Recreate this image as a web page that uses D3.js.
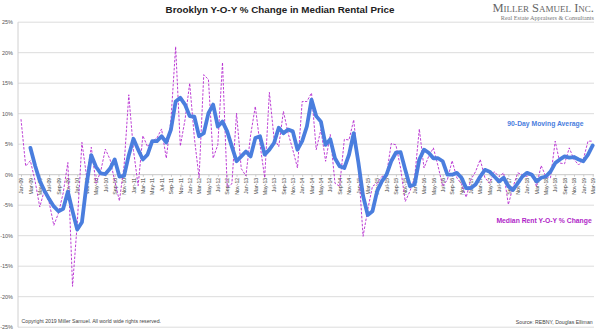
<!DOCTYPE html>
<html>
<head>
<meta charset="utf-8">
<script src="https://cdn.jsdelivr.net/npm/d3@7"></script>
<style>
  html, body { margin: 0; padding: 0; background: #fff; }
  svg { display: block; }
  text { font-family: "Liberation Sans", Arial, sans-serif; }
</style>
</head>
<body>
<svg id="chart" width="600" height="331"></svg>
<script>
// ---- data ----
const monthNames = ["Jan","Feb","Mar","Apr","May","Jun","Jul","Aug","Sep","Oct","Nov","Dec"];
const years = ["09","10","11","12","13","14","15","16","17","18","19"];
const months = [];
years.forEach(y => monthNames.forEach(m => months.push(m + "-" + y)));
months.length = 123; // Jan-09 .. Mar-19

// Median Rent Y-O-Y % Change (monthly)
const yoyChange = [
  9.1, 1.4, 2.3, -1.0, -5.3, -2.5, -4.5, -8.3, -6.3, -3.0, 2.0, -18.3,
  -8.0, 5.3, -0.3, 4.5, -1.4, 0.5, 4.2, 2.5, -1.0, -4.3, 1.5, 13.1,
  4.0, -1.8, 6.4, 4.6, 5.5, 6.0, 7.5, 2.7, 9.0, 21.0, 4.7, 9.0,
  15.0, 6.0, -0.5, 16.4, 15.6, 2.7, 4.9, 18.4, -2.0, -1.5, 10.1, 1.0,
  -0.2, 6.5, 11.2, 5.0, -0.5, 13.5, 6.0, 4.6, 10.4, 6.8, 4.1, 1.1,
  12.0, 12.0, 13.4, 4.1, 7.4, 2.2, 6.6, -1.4, -1.9, 5.8, 5.7, 9.0,
  1.4, -10.1, -5.7, -1.9, -1.4, -0.3, 0.0, 5.1, 4.9, 1.1, -4.4, -2.7,
  -0.5, 7.5, 1.1, 3.0, 4.4, 1.4, -1.9, -0.8, 2.3, -0.5, -1.5, -3.7,
  -0.8, 0.5, 2.5, -0.5, -1.4, 0.5, -0.3, 0.3, -4.9, -2.0, 0.3, 0.0,
  -0.3, 0.3, -1.9, 1.5, -0.3, -0.5, 5.5, 1.9, 1.8, 4.4, 2.5, 1.6,
  2.5, 5.5, 5.5
];

// 90-Day Moving Average (monthly; first two months have no value)
const movingAvg = [
  null, null, 4.4, 1.5, -1.0, -2.6, -4.0, -5.2, -6.0, -5.6, -2.8, -6.0,
  -9.0, -7.8, -1.5, 3.2, 1.3, 0.2, 0.1, 1.0, 2.5, -0.3, -0.2, 3.2,
  5.9, 4.1, 2.5, 3.3, 5.5, 5.5, 6.3, 5.3, 7.4, 12.0, 12.6, 11.5,
  9.6, 9.5, 6.3, 6.8, 10.1, 11.5, 7.9, 8.7, 7.1, 4.6, 2.2, 3.0,
  3.8, 3.0, 6.0, 6.3, 3.3, 4.1, 5.2, 7.7, 6.8, 7.4, 7.1, 4.1,
  5.5, 7.9, 12.3, 9.6, 8.7, 4.9, 5.8, 2.7, 1.4, 1.1, 3.3, 6.8,
  2.0, -3.5, -6.6, -6.0, -2.7, -1.1, 0.0, 2.2, 3.6, 3.7, 0.8, -1.9,
  -1.6, 2.5, 4.1, 3.6, 2.7, 2.7, 2.2, 0.0, 0.0, 0.3, -0.5, -2.2,
  -2.2, -1.6, -0.3, 0.8, 0.5, -0.3, -1.1, -0.5, -1.9, -2.5, -1.4, -0.3,
  0.3, 0.0, -1.1, -0.5, -0.3, 0.5, 1.9, 2.5, 3.0, 2.8, 2.9, 2.5,
  2.2, 3.3, 4.8
];

const yTicks = [25, 20, 15, 10, 5, 0, -5, -10, -15, -20, -25];
const xTickLabels = months.filter((m, i) => i % 2 === 0);

const titleText = "Brooklyn Y-O-Y % Change in Median Rental Price";
const seriesNames = ["90-Day Moving Average", "Median Rent Y-O-Y % Change"];
const copyrightText = "Copyright 2019 Miller Samuel.  All world wide rights reserved.";
const sourceText = "Source: REBNY, Douglas Elliman";

// ---- drawing ----
const svg = d3.select("#chart");
const plot = { left: 18, right: 594, top: 22.2, bottom: 327.2 };

const x = d3.scalePoint().domain(months).range([21, 592.7]);
const y = d3.scaleLinear().domain([-25, 25]).range([plot.bottom, plot.top]);

// gridlines
svg.append("g").selectAll("line").data(yTicks).join("line")
  .attr("x1", plot.left).attr("x2", plot.right)
  .attr("y1", d => y(d)).attr("y2", d => y(d))
  .attr("stroke", d => d === 0 ? "#c8c8c8" : "#dcdcdc")
  .attr("stroke-width", 1);

// left axis line
svg.append("line")
  .attr("x1", plot.left).attr("x2", plot.left)
  .attr("y1", plot.top).attr("y2", plot.bottom)
  .attr("stroke", "#d0d0d0");

// y axis labels
const yAxis = d3.axisLeft(y).tickValues(yTicks).tickSize(0).tickPadding(0)
  .tickFormat(d => d + "%");
svg.append("g").attr("transform", `translate(13,0)`).call(yAxis)
  .call(g => g.select(".domain").remove())
  .call(g => g.selectAll("text")
    .attr("font-family", "'Liberation Sans', Arial, sans-serif")
    .attr("font-size", 5.5).attr("fill", "#555"));

// x axis labels on zero line
const xAxis = d3.axisBottom(x).tickValues(xTickLabels).tickSize(2).tickPadding(1);
svg.append("g").attr("transform", `translate(0,${y(0)})`).call(xAxis)
  .call(g => g.select(".domain").remove())
  .call(g => g.selectAll(".tick line").attr("stroke", "#c8c8c8"))
  .call(g => g.selectAll("text")
    .attr("font-family", "'Liberation Sans', Arial, sans-serif")
    .attr("font-size", 5.3).attr("fill", "#444")
    .attr("text-anchor", "end")
    .attr("dy", "0.32em")
    .attr("transform", "rotate(-90)")
    .attr("x", -3).attr("y", 0));

// YoY dashed line
const lineYoy = d3.line()
  .x((d, i) => x(months[i]))
  .y(d => y(d));
svg.append("path").datum(yoyChange)
  .attr("d", lineYoy)
  .attr("fill", "none")
  .attr("stroke", "#b62ad0")
  .attr("stroke-width", 0.9)
  .attr("stroke-dasharray", "2.5,1.5");

// moving average line
const lineMa = d3.line()
  .defined(d => d !== null)
  .x((d, i) => x(months[i]))
  .y(d => y(d));
svg.append("path").datum(movingAvg)
  .attr("d", lineMa)
  .attr("fill", "none")
  .attr("stroke", "#4a7ede")
  .attr("stroke-width", 3.8)
  .attr("stroke-linejoin", "round")
  .attr("stroke-linecap", "round");

// title
svg.append("text")
  .attr("x", 280).attr("y", 13)
  .attr("text-anchor", "middle")
  .attr("font-size", 9.8).attr("font-weight", "bold").attr("fill", "#222")
  .text(titleText);

// logo
svg.append("text")
  .attr("x", 594).attr("y", 12)
  .attr("text-anchor", "end")
  .attr("font-size", 12.5).attr("fill", "#666")
  .style("font-variant", "small-caps")
  .style("font-family", "'Liberation Serif', serif")
  .text("Miller Samuel Inc.");
svg.append("text")
  .attr("x", 594).attr("y", 19.5)
  .attr("text-anchor", "end")
  .attr("font-size", 6.2).attr("fill", "#777")
  .style("font-family", "'Liberation Serif', serif")
  .text("Real Estate Appraisers & Consultants");

// series labels
svg.append("text")
  .attr("x", 583.5).attr("y", 125.5)
  .attr("text-anchor", "end")
  .attr("font-size", 6.8).attr("font-weight", "bold").attr("fill", "#4a7ede")
  .text(seriesNames[0]);
svg.append("text")
  .attr("x", 591.7).attr("y", 223)
  .attr("text-anchor", "end")
  .attr("font-size", 6.8).attr("font-weight", "bold").attr("fill", "#b01fc8")
  .text(seriesNames[1]);

// footer
svg.append("text")
  .attr("x", 21.5).attr("y", 322.7)
  .attr("font-size", 5.2).attr("fill", "#444")
  .text(copyrightText);
svg.append("text")
  .attr("x", 592.7).attr("y", 323.5)
  .attr("text-anchor", "end")
  .attr("font-size", 5.2).attr("fill", "#444")
  .text(sourceText);
</script>
</body>
</html>
